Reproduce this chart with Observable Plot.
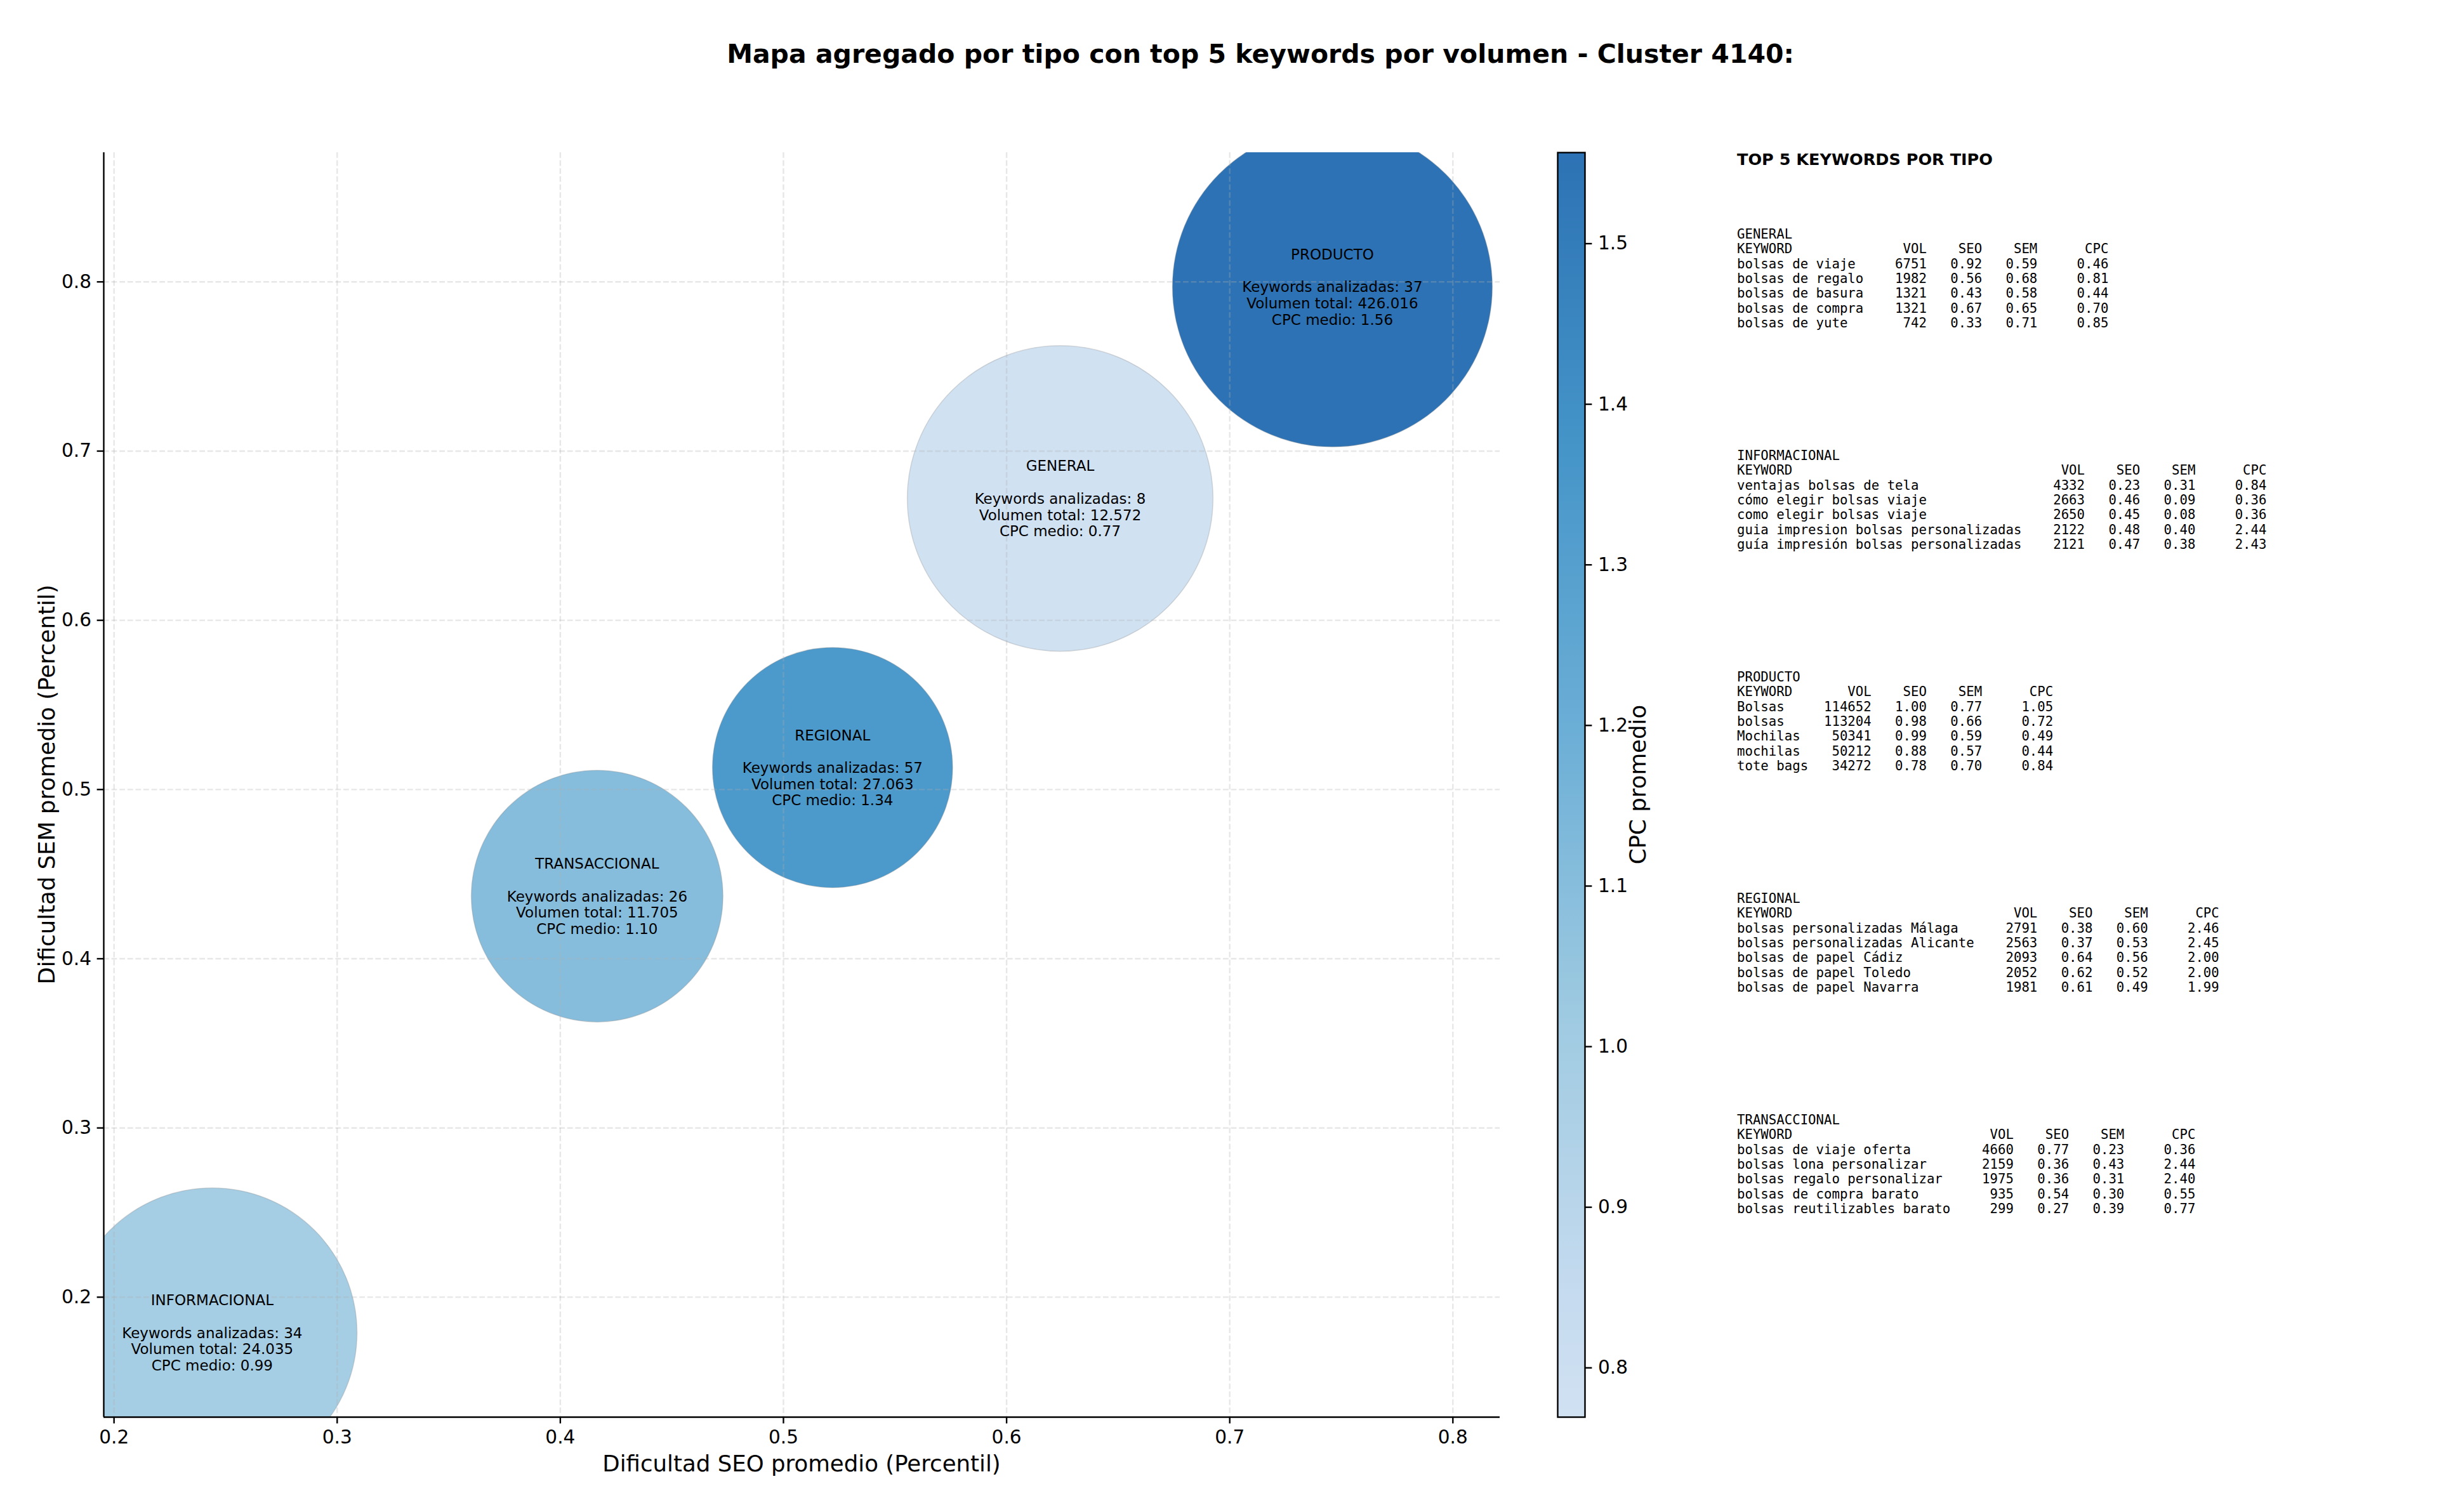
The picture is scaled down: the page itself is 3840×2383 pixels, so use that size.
<!DOCTYPE html>
<html>
<head>
<meta charset="utf-8">
<script src="https://cdn.jsdelivr.net/npm/d3@7"></script>
<script src="https://cdn.jsdelivr.net/npm/@observablehq/plot@0.6"></script>
<style>
  html, body { margin: 0; padding: 0; background: #fff; }
  #root { position: relative; width: 3840px; height: 2383px; overflow: hidden; background: #fff; }
  #root > svg { position: absolute; }
</style>
</head>
<body>
<div id="root"></div>
<script>
// ---------------- DATA ----------------
const tipos = ["GENERAL", "INFORMACIONAL", "PRODUCTO", "REGIONAL", "TRANSACCIONAL"];
const seoPromedio = [0.624, 0.244, 0.746, 0.522, 0.4165];
const semPromedio = [0.672, 0.179, 0.797, 0.513, 0.437];
const cpcMedio = [0.7693, 0.99, 1.5567, 1.34, 1.10];
const keywordsAnalizadas = [8, 34, 37, 57, 26];
const volumenTotal = [12572, 24035, 426016, 27063, 11705];
const tamanoBurbuja = [26400, 23700, 28900, 16300, 17900];

const xTicks = [0.2, 0.3, 0.4, 0.5, 0.6, 0.7, 0.8];
const yTicks = [0.2, 0.3, 0.4, 0.5, 0.6, 0.7, 0.8];
const cbTicks = [0.8, 0.9, 1.0, 1.1, 1.2, 1.3, 1.4, 1.5];

// Top 5 keywords per type: [keyword, vol, seo, sem, cpc]
const topGeneral = [
  ["bolsas de viaje", 6751, 0.92, 0.59, 0.46],
  ["bolsas de regalo", 1982, 0.56, 0.68, 0.81],
  ["bolsas de basura", 1321, 0.43, 0.58, 0.44],
  ["bolsas de compra", 1321, 0.67, 0.65, 0.70],
  ["bolsas de yute", 742, 0.33, 0.71, 0.85]
];
const topInformacional = [
  ["ventajas bolsas de tela", 4332, 0.23, 0.31, 0.84],
  ["cómo elegir bolsas viaje", 2663, 0.46, 0.09, 0.36],
  ["como elegir bolsas viaje", 2650, 0.45, 0.08, 0.36],
  ["guia impresion bolsas personalizadas", 2122, 0.48, 0.40, 2.44],
  ["guía impresión bolsas personalizadas", 2121, 0.47, 0.38, 2.43]
];
const topProducto = [
  ["Bolsas", 114652, 1.00, 0.77, 1.05],
  ["bolsas", 113204, 0.98, 0.66, 0.72],
  ["Mochilas", 50341, 0.99, 0.59, 0.49],
  ["mochilas", 50212, 0.88, 0.57, 0.44],
  ["tote bags", 34272, 0.78, 0.70, 0.84]
];
const topRegional = [
  ["bolsas personalizadas Málaga", 2791, 0.38, 0.60, 2.46],
  ["bolsas personalizadas Alicante", 2563, 0.37, 0.53, 2.45],
  ["bolsas de papel Cádiz", 2093, 0.64, 0.56, 2.00],
  ["bolsas de papel Toledo", 2052, 0.62, 0.52, 2.00],
  ["bolsas de papel Navarra", 1981, 0.61, 0.49, 1.99]
];
const topTransaccional = [
  ["bolsas de viaje oferta", 4660, 0.77, 0.23, 0.36],
  ["bolsas lona personalizar", 2159, 0.36, 0.43, 2.44],
  ["bolsas regalo personalizar", 1975, 0.36, 0.31, 2.40],
  ["bolsas de compra barato", 935, 0.54, 0.30, 0.55],
  ["bolsas reutilizables barato", 299, 0.27, 0.39, 0.77]
];
const tablas = [topGeneral, topInformacional, topProducto, topRegional, topTransaccional];

// ---------------- LAYOUT / STYLE ----------------
const FONT = "'DejaVu Sans', Verdana, sans-serif";
const MONO = "'DejaVu Sans Mono', monospace";
const frameL = 163, frameR = 2363, frameT = 240, frameB = 2233;
const xDomain = [0.1954, 0.8211];
const yDomain = [0.1291, 0.8764];
const cDomain = d3.extent(cpcMedio);
// matplotlib "Blues" stops, using the 0.2 .. 0.75 part of the map
const bluesT = [0.2, 0.25, 0.375, 0.5, 0.625, 0.75];
const bluesC = ["#d0e1f2", "#c6dbef", "#9ecae1", "#6baed6", "#4494c8", "#2c72b4"];
const colorDomain = bluesT.map(t => cDomain[0] + (t - bluesT[0]) / (bluesT[bluesT.length - 1] - bluesT[0]) * (cDomain[1] - cDomain[0]));

const tickPx = 10.4, lw = 2.4, tickFont = 29.6;
const fmtVol = d3.formatLocale({decimal: ",", thousands: ".", grouping: [3], currency: ["", ""]}).format(",d");

const data = tipos.map((t, i) => ({
  tipo: t, seo: seoPromedio[i], sem: semPromedio[i], cpc: cpcMedio[i],
  n: keywordsAnalizadas[i], vol: volumenTotal[i], size: tamanoBurbuja[i]
}));

const root = document.getElementById("root");
const W = 2400, H = 2383;

const main = Plot.plot({
  width: W, height: H,
  marginLeft: frameL, marginRight: W - frameR, marginTop: frameT, marginBottom: H - frameB,
  style: {fontFamily: FONT, fontSize: tickFont + "px", color: "black", background: "transparent", overflow: "visible"},
  x: {domain: xDomain},
  y: {domain: yDomain},
  r: {type: "sqrt", domain: [0, d3.max(tamanoBurbuja)], range: [0, 252]},
  color: {type: "linear", domain: colorDomain, range: bluesC, interpolate: "rgb"},
  marks: [
    Plot.dot(data, {x: "seo", y: "sem", r: "size", fill: "cpc", stroke: "#8c8c8c", strokeOpacity: 0.3, strokeWidth: 1.5, clip: true}),
    Plot.gridX(xTicks, {stroke: "#b0b0b0", strokeOpacity: 0.3, strokeWidth: lw, strokeDasharray: "8.8,3.8"}),
    Plot.gridY(yTicks, {stroke: "#b0b0b0", strokeOpacity: 0.3, strokeWidth: lw, strokeDasharray: "8.8,3.8"}),
    Plot.ruleX([xDomain[0]], {stroke: "black", strokeWidth: lw}),
    Plot.ruleY([yDomain[0]], {stroke: "black", strokeWidth: lw}),
    Plot.axisX(xTicks, {tickSize: tickPx, tickPadding: 10, strokeWidth: lw, fontSize: tickFont, label: null, tickFormat: d3.format(".1f")}),
    Plot.axisY(yTicks, {tickSize: tickPx, tickPadding: 9, strokeWidth: lw, fontSize: tickFont, label: null, tickFormat: d3.format(".1f")}),
    Plot.text(data, {
      x: "seo", y: "sem",
      text: d => `${d.tipo}\n\nKeywords analizadas: ${d.n}\nVolumen total: ${fmtVol(d.vol)}\nCPC medio: ${d.cpc.toFixed(2)}`,
      fontSize: 23, lineHeight: 1.117, fill: "black", textAnchor: "middle", lineAnchor: "middle"
    })
  ]
});
main.style.left = "0px"; main.style.top = "0px";
root.appendChild(main);

// ---------------- COLORBAR ----------------
const cbL = 2454, cbR = 2497;
const cbPadL = 10, cbW = 300;
const cb = Plot.plot({
  width: cbW, height: H,
  marginLeft: cbPadL, marginRight: cbW - cbPadL - (cbR - cbL), marginTop: frameT, marginBottom: H - frameB,
  style: {fontFamily: FONT, fontSize: tickFont + "px", color: "black", background: "transparent", overflow: "visible"},
  x: {domain: [0, 1], axis: null},
  y: {domain: cDomain},
  marks: [
    Plot.rect([0], {x1: 0, x2: 1, y1: cDomain[0], y2: cDomain[1], fill: "url(#cbgrad)"}),
    Plot.frame({stroke: "black", strokeWidth: lw}),
    Plot.axisY(cbTicks, {anchor: "right", tickSize: tickPx, tickPadding: 10, strokeWidth: lw, fontSize: tickFont, label: null, tickFormat: d3.format(".1f")})
  ]
});
{
  const grad = d3.select(cb).insert("defs", ":first-child").append("linearGradient")
    .attr("id", "cbgrad").attr("x1", 0).attr("y1", 1).attr("x2", 0).attr("y2", 0);
  colorDomain.forEach((v, i) => {
    grad.append("stop").attr("offset", (v - cDomain[0]) / (cDomain[1] - cDomain[0])).attr("stop-color", bluesC[i]);
  });
}
cb.style.left = (cbL - cbPadL) + "px"; cb.style.top = "0px";
root.appendChild(cb);

// ---------------- TEXT OVERLAY ----------------
const ov = d3.select(root).append("svg")
  .attr("width", 3840).attr("height", 2383)
  .style("left", "0px").style("top", "0px").style("pointer-events", "none");

ov.append("text").attr("x", 1986).attr("y", 99).attr("text-anchor", "middle")
  .attr("font-family", FONT).attr("font-weight", "bold").attr("font-size", 41)
  .text("Mapa agregado por tipo con top 5 keywords por volumen - Cluster 4140:");

ov.append("text").attr("x", (frameL + frameR) / 2).attr("y", 2319).attr("text-anchor", "middle")
  .attr("font-family", FONT).attr("font-size", 35.6)
  .text("Dificultad SEO promedio (Percentil)");

ov.append("text").attr("transform", `translate(86,${(frameT + frameB) / 2}) rotate(-90)`).attr("text-anchor", "middle")
  .attr("font-family", FONT).attr("font-size", 35.6)
  .text("Dificultad SEM promedio (Percentil)");

ov.append("text").attr("transform", `translate(2593,${(frameT + frameB) / 2}) rotate(-90)`).attr("text-anchor", "middle")
  .attr("font-family", FONT).attr("font-size", 35.6)
  .text("CPC promedio");

// Tables
const tx = 2737;
ov.append("text").attr("x", tx).attr("y", 260)
  .attr("font-family", FONT).attr("font-weight", "bold").attr("font-size", 25.5)
  .text("TOP 5 KEYWORDS POR TIPO");

const lineH = 23.3, secStep = 349, secY0 = 376;
tablas.forEach((rows, s) => {
  const w = d3.max(rows, r => r[0].length) + 1;
  const lines = [
    tipos[s],
    "KEYWORD".padEnd(w) + " " + "VOL".padStart(6) + " " + "SEO".padStart(6) + " " + "SEM".padStart(6) + " " + "CPC".padStart(8),
    ...rows.map(r => r[0].padEnd(w) + " " + String(r[1]).padStart(6) + " " + r[2].toFixed(2).padStart(6) + " " + r[3].toFixed(2).padStart(6) + " " + r[4].toFixed(2).padStart(8))
  ];
  lines.forEach((l, j) => {
    ov.append("text").attr("x", tx).attr("y", secY0 + s * secStep + j * lineH)
      .attr("font-family", MONO).attr("font-size", 20.7)
      .style("white-space", "pre").attr("xml:space", "preserve")
      .text(l);
  });
});
</script>
</body>
</html>
